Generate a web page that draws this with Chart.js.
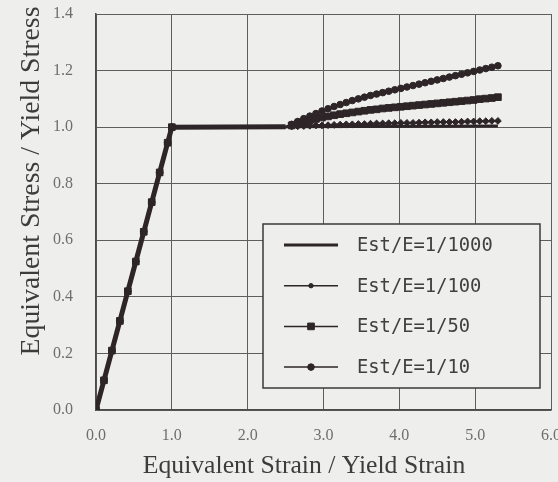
<!DOCTYPE html>
<html>
<head>
<meta charset="utf-8">
<script src="https://cdn.jsdelivr.net/npm/chart.js@4/dist/chart.umd.min.js"></script>
<style>
  html, body { margin: 0; padding: 0; background: #eeeeec; }
  #wrap { width: 558px; height: 482px; }
</style>
</head>
<body>
<div id="wrap"><canvas id="chart" width="558" height="482"></canvas></div>
<script>
// ── Data ──
const seriesLabels = ['Est/E=1/1000', 'Est/E=1/100', 'Est/E=1/50', 'Est/E=1/10'];
const xTitle = 'Equivalent Strain / Yield Strain';
const yTitle = 'Equivalent Stress / Yield Stress';

// elastic branch, shared by every case
const elasticStrain = [0, 0.105, 0.21, 0.315, 0.42, 0.525, 0.63, 0.735, 0.84, 0.945, 1.0];
const elasticStress = [0, 0.105, 0.21, 0.315, 0.42, 0.525, 0.63, 0.735, 0.84, 0.945, 1.0];

// yield plateau end
const plateauStrain = [2.5];
const plateauStress = [1.0];

// hardening branch
const hardStrain = [2.58, 2.66, 2.74, 2.82, 2.90, 2.98, 3.06, 3.14, 3.22, 3.30, 3.38, 3.46,
  3.54, 3.62, 3.70, 3.78, 3.86, 3.94, 4.02, 4.10, 4.18, 4.26, 4.34, 4.42, 4.50,
  4.58, 4.66, 4.74, 4.82, 4.90, 4.98, 5.06, 5.14, 5.22, 5.30];

const stress1000Strain = [2.5, 5.3];
const stress1000 = [1.001, 1.004];

const stress100 = [1.002, 1.003, 1.004, 1.005, 1.006, 1.006, 1.007, 1.008, 1.009, 1.010, 1.010,
  1.011, 1.011, 1.012, 1.013, 1.013, 1.014, 1.014, 1.015, 1.015, 1.015, 1.016, 1.017, 1.017,
  1.018, 1.018, 1.018, 1.018, 1.019, 1.020, 1.020, 1.021, 1.021, 1.022, 1.022];

const stress50 = [1.006, 1.012, 1.018, 1.024, 1.029, 1.034, 1.038, 1.042, 1.046, 1.049, 1.052,
  1.055, 1.058, 1.061, 1.063, 1.066, 1.068, 1.070, 1.072, 1.074, 1.076, 1.078, 1.080, 1.082,
  1.084, 1.086, 1.088, 1.090, 1.092, 1.094, 1.096, 1.099, 1.101, 1.103, 1.106];

const stress10 = [1.010, 1.020, 1.030, 1.039, 1.048, 1.057, 1.065, 1.073, 1.080, 1.087, 1.094,
  1.100, 1.106, 1.112, 1.117, 1.122, 1.127, 1.132, 1.137, 1.142, 1.147, 1.152, 1.157, 1.162,
  1.167, 1.172, 1.177, 1.182, 1.187, 1.192, 1.197, 1.202, 1.207, 1.212, 1.217];

const xTicks = [0, 1, 2, 3, 4, 5, 6];
const yTicks = [0, 0.2, 0.4, 0.6, 0.8, 1.0, 1.2, 1.4];

// ── Style ──
const BG = '#eeeeec';
const INK = '#2d2527';
const GRID = '#5e5e5e';
const SERIF = '"Liberation Serif", "Times New Roman", serif';

function pts(xs, ys) {
  return xs.map((x, i) => ({ x, y: ys[i] }));
}
function curve(hard) {
  return pts(elasticStrain, elasticStress)
    .concat(pts(plateauStrain, plateauStress))
    .concat(pts(hardStrain, hard));
}
// no markers along the plateau
function markerRadius(r) {
  return (ctx) => {
    const x = ctx.raw && ctx.raw.x;
    return (x > 1.0 && x <= 2.5) ? 0 : r;
  };
}

const datasets = [
  {
    label: seriesLabels[0],
    data: pts(elasticStrain, elasticStress).concat(pts(stress1000Strain, stress1000)),
    borderColor: INK, backgroundColor: INK,
    borderWidth: 3, pointRadius: 0,
    segment: { borderWidth: (c) => (c.p0.parsed.x < 2.4 ? 5 : 3) },
    legendLine: 3, legendPoint: null,
  },
  {
    label: seriesLabels[1],
    data: curve(stress100),
    borderColor: INK, backgroundColor: INK,
    borderWidth: 2, pointStyle: 'rectRot', pointRadius: markerRadius(3.4), pointBorderWidth: 1,
    legendLine: 1.5, legendPoint: { pointStyle: 'circle', radius: 2.2 },
  },
  {
    label: seriesLabels[2],
    data: curve(stress50),
    borderColor: INK, backgroundColor: INK,
    borderWidth: 2, pointStyle: 'rect', pointRadius: markerRadius(4.7), pointBorderWidth: 1,
    legendLine: 1.5, legendPoint: { pointStyle: 'rect', radius: 4.7 },
  },
  {
    label: seriesLabels[3],
    data: curve(stress10),
    borderColor: INK, backgroundColor: INK,
    borderWidth: 2, pointStyle: 'circle', pointRadius: markerRadius(3.3), pointBorderWidth: 1,
    legendLine: 1.5, legendPoint: { pointStyle: 'circle', radius: 3.3 },
  },
];

// ── Plugins ──
const background = {
  id: 'background',
  beforeDraw(chart) {
    const { ctx } = chart;
    ctx.save();
    ctx.fillStyle = BG;
    ctx.fillRect(0, 0, chart.width, chart.height);
    ctx.restore();
  },
};

// axis titles, placed where the scan has them (not centred on the plot)
const axisTitles = {
  id: 'axisTitles',
  afterDraw(chart) {
    const { ctx } = chart;
    ctx.save();
    ctx.fillStyle = '#3c3c3c';
    ctx.textAlign = 'center';
    ctx.textBaseline = 'alphabetic';
    ctx.font = `25.7px ${SERIF}`;
    ctx.fillText(xTitle, 304, 473);
    ctx.translate(39, 181);
    ctx.rotate(-Math.PI / 2);
    ctx.font = `27.8px ${SERIF}`;
    ctx.fillText(yTitle, 0, 0);
    ctx.restore();
  },
};

// boxed legend sitting inside the plot, lower right
const boxLegend = {
  id: 'boxLegend',
  afterDraw(chart) {
    const { ctx } = chart;
    const box = { x: 263, y: 224, w: 277, h: 164 };
    ctx.save();
    ctx.fillStyle = BG;
    ctx.fillRect(box.x, box.y, box.w, box.h);
    ctx.strokeStyle = '#3a3a3a';
    ctx.lineWidth = 1.5;
    ctx.strokeRect(box.x, box.y, box.w, box.h);

    chart.data.datasets.forEach((ds, i) => {
      const y = 245 + i * 40.7;
      ctx.strokeStyle = ds.borderColor;
      ctx.lineWidth = ds.legendLine;
      ctx.beginPath();
      ctx.moveTo(284, y);
      ctx.lineTo(338, y);
      ctx.stroke();
      if (ds.legendPoint) {
        ctx.fillStyle = ds.backgroundColor;
        ctx.lineWidth = 1;
        Chart.helpers.drawPoint(ctx, {
          pointStyle: ds.legendPoint.pointStyle,
          radius: ds.legendPoint.radius,
          rotation: 0,
          borderWidth: 1,
        }, 311, y);
      }
      ctx.fillStyle = '#404040';
      ctx.font = '18.8px "DejaVu Sans Mono", "Liberation Mono", monospace';
      ctx.textAlign = 'left';
      ctx.textBaseline = 'middle';
      ctx.fillText(ds.label, 357, y + 1);
    });
    ctx.restore();
  },
};

new Chart(document.getElementById('chart'), {
  type: 'line',
  data: { datasets },
  options: {
    responsive: false,
    devicePixelRatio: 1,
    animation: false,
    layout: { padding: { top: 14, right: 7, left: 0, bottom: 0 } },
    plugins: {
      legend: { display: false },
      tooltip: { enabled: false },
    },
    elements: { line: { tension: 0 } },
    scales: {
      x: {
        type: 'linear',
        min: xTicks[0], max: xTicks[xTicks.length - 1],
        afterBuildTicks: (s) => { s.ticks = xTicks.map((v) => ({ value: v })); },
        afterFit: (s) => { s.height = 72; s.paddingLeft = 0; s.paddingRight = 0; },
        ticks: {
          callback: (v) => v.toFixed(1),
          color: '#6e6e6e',
          font: { family: SERIF, size: 16 },
          padding: 16,
          maxRotation: 0,
        },
        grid: { color: GRID, lineWidth: 1, drawTicks: false },
        border: { display: true, color: '#4a4a4a', width: 1.5 },
      },
      y: {
        type: 'linear',
        min: yTicks[0], max: yTicks[yTicks.length - 1],
        afterBuildTicks: (s) => { s.ticks = yTicks.map((v) => ({ value: v })); },
        afterFit: (s) => { s.width = 96; s.paddingTop = 0; s.paddingBottom = 0; },
        ticks: {
          callback: (v) => v.toFixed(1),
          color: '#6e6e6e',
          font: { family: SERIF, size: 16 },
          padding: 23,
        },
        grid: { color: GRID, lineWidth: 1, drawTicks: false },
        border: { display: true, color: '#4a4a4a', width: 1.5 },
      },
    },
  },
  plugins: [background, axisTitles, boxLegend],
});
</script>
</body>
</html>
